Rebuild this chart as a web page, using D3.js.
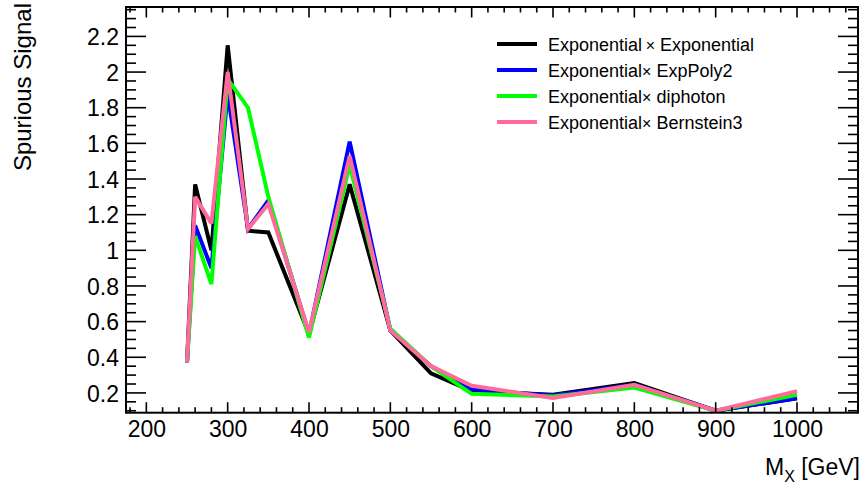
<!DOCTYPE html>
<html><head><meta charset="utf-8">
<script src="https://cdn.jsdelivr.net/npm/d3@7/dist/d3.min.js"></script>
<style>body{margin:0;background:#fff}svg{display:block}text{font-family:"Liberation Sans",Arial,sans-serif}</style>
</head><body><svg id="c" width="866" height="488"></svg>
<script>
const massPoints = [250, 260, 280, 300, 325, 350, 400, 450, 500, 550, 600, 700, 800, 900, 1000];
const expExp      = [0.37, 1.37, 1.00, 2.15, 1.11, 1.10, 0.53, 1.37, 0.55, 0.31, 0.21, 0.19, 0.255, 0.10, 0.17];
const expExpPoly2 = [0.37, 1.14, 0.90, 1.88, 1.12, 1.28, 0.53, 1.61, 0.55, 0.35, 0.22, 0.185, 0.245, 0.10, 0.17];
const expDiphoton = [0.37, 1.08, 0.81, 1.96, 1.80, 1.30, 0.51, 1.48, 0.56, 0.35, 0.195, 0.18, 0.23, 0.10, 0.19];
const expBern3    = [0.37, 1.30, 1.15, 2.00, 1.12, 1.26, 0.54, 1.53, 0.55, 0.35, 0.24, 0.172, 0.245, 0.10, 0.21];
const seriesNames = ["Exponential\u2009\u00d7 Exponential", "Exponential\u00d7 ExpPoly2", "Exponential\u00d7 diphoton", "Exponential\u00d7 Bernstein3"];
const seriesColors = ["#000000", "#0000ff", "#00ff00", "#ff6a9a"];
const xTickValues = [200, 300, 400, 500, 600, 700, 800, 900, 1000];
const xTickLabels = ["200", "300", "400", "500", "600", "700", "800", "900", "1000"];
const yTickValues = [0.2, 0.4, 0.6, 0.8, 1, 1.2, 1.4, 1.6, 1.8, 2, 2.2];
const yTickLabels = ["0.2", "0.4", "0.6", "0.8", "1", "1.2", "1.4", "1.6", "1.8", "2", "2.2"];
const xTitle = "M", xTitleSub = "X", xTitleUnit = " [GeV]";
const yTitle = "Spurious Signal";

const FF = '"Liberation Sans",Arial,sans-serif';
const svg = d3.select("#c");
const L = 126, R = 858, T = 7, B = 412.7;
const x = d3.scaleLinear().domain([175, 1075]).range([L, R]);
const y = d3.scaleLinear().domain([0.089, 2.365]).range([B, T]);

const series = [expExp, expExpPoly2, expDiphoton, expBern3];
const line = d3.line().x((d, i) => x(massPoints[i])).y(d => y(d));
series.forEach((s, k) => {
  svg.append("path").datum(s).attr("d", line).attr("fill", "none")
    .attr("stroke", seriesColors[k]).attr("stroke-width", 4).attr("stroke-linejoin", "miter").attr("stroke-miterlimit", 3);
});

// frame
svg.append("rect").attr("x", L).attr("y", T).attr("width", R - L).attr("height", B - T)
  .attr("fill", "none").attr("stroke", "#000").attr("stroke-width", 2);

// ticks
const xMinor = d3.range(180, 1075, 20);
const yMinor = d3.range(0.1, 2.36, 0.05);
const tk = svg.append("g").attr("stroke", "#000").attr("stroke-width", 1.6);
xMinor.forEach(v => {
  const major = v % 100 === 0;
  const len = major ? 10.5 : 5.5;
  tk.append("line").attr("x1", x(v)).attr("x2", x(v)).attr("y1", B).attr("y2", B - len);
  tk.append("line").attr("x1", x(v)).attr("x2", x(v)).attr("y1", T).attr("y2", T + len);
});
yMinor.forEach(v => {
  const major = Math.abs(Math.round(v * 5) - v * 5) < 1e-6;
  const len = major ? 20 : 10;
  tk.append("line").attr("y1", y(v)).attr("y2", y(v)).attr("x1", L).attr("x2", L + len);
  tk.append("line").attr("y1", y(v)).attr("y2", y(v)).attr("x1", R).attr("x2", R - len);
});

// tick labels
const xAxis = d3.axisBottom(x).tickValues(xTickValues).tickFormat((d, i) => xTickLabels[i]).tickSize(0).tickPadding(0);
const gx = svg.append("g").attr("transform", `translate(0,${B})`).call(xAxis);
gx.select(".domain").remove();
gx.selectAll("text").attr("font-size", 23).attr("fill", "#000").attr("dy", "0").attr("y", 24)
  .style("font-family", FF);

const yAxis = d3.axisLeft(y).tickValues(yTickValues).tickFormat((d, i) => yTickLabels[i]).tickSize(0).tickPadding(7);
const gy = svg.append("g").attr("transform", `translate(${L},0)`).call(yAxis);
gy.select(".domain").remove();
gy.selectAll("text").attr("font-size", 23).attr("fill", "#000").attr("dy", "0.36em")
  .style("font-family", FF);

// axis titles
const xt = svg.append("text").attr("x", 860).attr("y", 475).attr("text-anchor", "end").attr("font-size", 23).attr("fill", "#000");
xt.append("tspan").text(xTitle);
xt.append("tspan").attr("font-size", 16).attr("dy", 7).text(xTitleSub);
xt.append("tspan").attr("dy", -7).text(xTitleUnit);

svg.append("text").attr("transform", "translate(31,3) rotate(-90)").attr("text-anchor", "end")
  .attr("font-size", 24).attr("fill", "#000").text(yTitle);

// legend
const lg = svg.append("g");
seriesNames.forEach((n, k) => {
  const yy = 44 + k * 26;
  lg.append("line").attr("x1", 497).attr("x2", 537).attr("y1", yy).attr("y2", yy)
    .attr("stroke", seriesColors[k]).attr("stroke-width", 4);
  const parts = n.split("\u00d7");
  const t = lg.append("text").attr("x", 548).attr("y", yy + 7).attr("font-size", 18).attr("fill", "#000");
  t.append("tspan").text(parts[0]);
  t.append("tspan").attr("font-size", 16).text("\u00d7");
  t.append("tspan").text(parts[1]);
});
</script></body></html>
